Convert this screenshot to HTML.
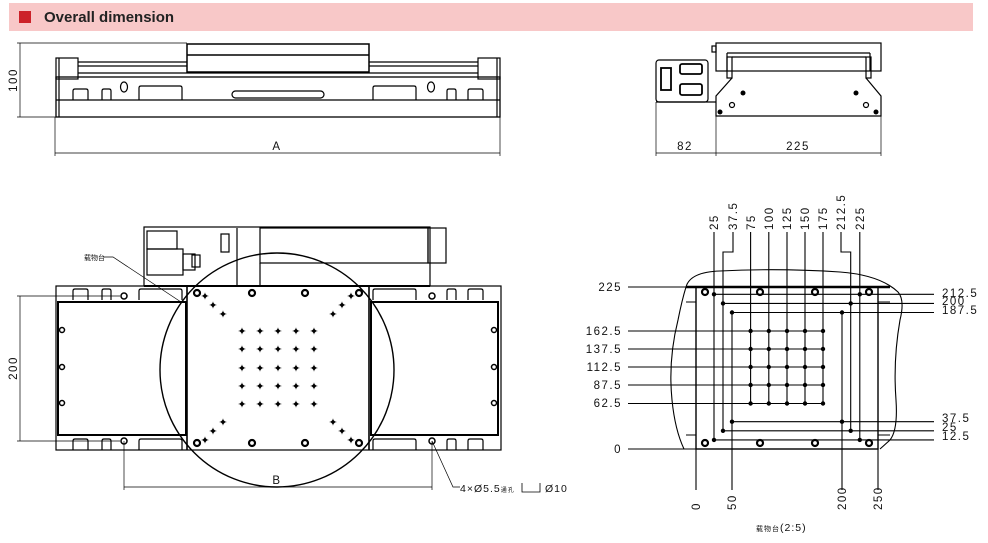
<!DOCTYPE html>
<html><head><meta charset="utf-8"><style>
html,body{margin:0;padding:0;background:#fff;}
svg{display:block;}
text{font-family:"Liberation Sans","Noto Sans CJK SC",sans-serif;}
.t{font-size:11.5px;letter-spacing:1.5px;fill:#111;}
</style></head><body>
<svg width="988" height="543" viewBox="0 0 988 543" xmlns="http://www.w3.org/2000/svg">
<rect x="9" y="3" width="964" height="28" fill="#f8c8c8"/>
<rect x="19" y="11" width="12" height="12" fill="#cc2229"/>
<text x="44" y="22" style="font-size:15px;font-weight:bold" fill="#222">Overall dimension</text>

<g fill="none" stroke="#000" stroke-width="1.2">
<!-- top-left view -->
<line x1="17" y1="43" x2="187" y2="43" stroke-width="0.7"/>
<line x1="17" y1="117" x2="56" y2="117" stroke-width="0.7"/>
<line x1="20" y1="43" x2="20" y2="117" stroke-width="0.7"/>
<rect x="187" y="44" width="182" height="28" stroke-width="1.5"/>
<line x1="187" y1="55" x2="369" y2="55" stroke-width="1.5"/>
<rect x="56" y="58" width="22" height="21"/><rect x="478" y="58" width="22" height="21"/>
<line x1="78" y1="62" x2="187" y2="62"/><line x1="78" y1="66" x2="187" y2="66"/>
<line x1="369" y1="62" x2="478" y2="62"/><line x1="369" y1="66" x2="478" y2="66"/>
<line x1="78" y1="73" x2="478" y2="73"/>
<rect x="56" y="77" width="444" height="40" stroke-width="1.3"/>
<line x1="59" y1="58" x2="59" y2="117"/><line x1="497" y1="58" x2="497" y2="117"/>
<line x1="56" y1="100" x2="500" y2="100"/>
<path d="M73 100V91q0-2 2-2h11q2 0 2 2v9M102 100V91q0-2 2-2h5q2 0 2 2v9M139 100V88q0-2 2-2h39q2 0 2 2v12"/>
<path d="M373 100V88q0-2 2-2h39q2 0 2 2v12M447 100V91q0-2 2-2h5q2 0 2 2v9M468 100V91q0-2 2-2h11q2 0 2 2v9"/>
<rect x="232" y="91" width="92" height="7" rx="3.5"/>
<ellipse cx="124" cy="87" rx="3.5" ry="5"/><ellipse cx="431" cy="87" rx="3.5" ry="5"/>
<line x1="55" y1="117" x2="55" y2="156" stroke-width="0.7"/><line x1="500" y1="117" x2="500" y2="156" stroke-width="0.7"/>
<line x1="55" y1="153" x2="500" y2="153" stroke-width="0.7"/>

<!-- top-right view -->
<rect x="716" y="43" width="165" height="28"/>
<line x1="727" y1="53" x2="870" y2="53"/><line x1="727" y1="53" x2="727" y2="71"/><line x1="870" y1="53" x2="870" y2="71"/>
<line x1="732" y1="57" x2="866" y2="57"/>
<rect x="727" y="57" width="5" height="21"/><rect x="866" y="57" width="5" height="21"/>
<rect x="712" y="46" width="4" height="6"/>
<path d="M732 78 L716 96 V116 H881 V96 L866 78"/>
<circle cx="732" cy="105" r="2.5"/><circle cx="866" cy="105" r="2.5"/>
<rect x="656" y="60" width="52" height="42" rx="3"/>
<line x1="656" y1="102" x2="716" y2="102"/>
<rect x="680" y="64" width="22" height="10" rx="2" stroke-width="1.8"/>
<rect x="680" y="84" width="22" height="11" rx="2" stroke-width="1.8"/>
<rect x="661" y="68" width="10" height="22" stroke-width="1.8"/>
<line x1="656" y1="102" x2="656" y2="156" stroke-width="0.7"/>
<line x1="716" y1="116" x2="716" y2="156" stroke-width="0.7"/>
<line x1="881" y1="116" x2="881" y2="156" stroke-width="0.7"/>
<line x1="656" y1="153" x2="881" y2="153" stroke-width="0.7"/>

<!-- bottom-left view -->
<rect x="144" y="227" width="286" height="59"/>
<rect x="260" y="228" width="168" height="35"/>
<rect x="428" y="228" width="18" height="35"/>
<line x1="237" y1="228" x2="237" y2="286"/><line x1="260" y1="263" x2="260" y2="286"/>
<rect x="147" y="231" width="30" height="18"/><rect x="147" y="249" width="36" height="26"/>
<rect x="183" y="254" width="12" height="16"/><rect x="192" y="255" width="8" height="12"/>
<rect x="221" y="234" width="8" height="18"/>
<rect x="56" y="286" width="445" height="164"/>
<rect x="58" y="302" width="128" height="133" stroke-width="2"/>
<rect x="371" y="302" width="127" height="133" stroke-width="2"/>
<line x1="187" y1="286" x2="187" y2="450" stroke-width="1.6"/>
<line x1="369" y1="286" x2="369" y2="450" stroke-width="1.6"/>
<line x1="144" y1="286" x2="430" y2="286" stroke-width="2"/>
<path d="M73 300V291q0-2 2-2h11q2 0 2 2v9M102 300V291q0-2 2-2h5q2 0 2 2v9M139 300V291q0-2 2-2h39q2 0 2 2v9"/>
<path d="M73 450V441q0-2 2-2h11q2 0 2 2v9M102 450V441q0-2 2-2h5q2 0 2 2v9M139 450V441q0-2 2-2h39q2 0 2 2v9"/>
<path d="M373 300V291q0-2 2-2h39q2 0 2 2v9M447 300V291q0-2 2-2h5q2 0 2 2v9M468 300V291q0-2 2-2h11q2 0 2 2v9"/>
<path d="M373 450V441q0-2 2-2h39q2 0 2 2v9M447 450V441q0-2 2-2h5q2 0 2 2v9M468 450V441q0-2 2-2h11q2 0 2 2v9"/>
<circle cx="277" cy="370" r="117" stroke-width="1.4"/>
<line x1="17" y1="296" x2="120" y2="296" stroke-width="0.7"/>
<line x1="17" y1="441" x2="120" y2="441" stroke-width="0.7"/>
<line x1="20" y1="296" x2="20" y2="441" stroke-width="0.7"/>
<line x1="124" y1="441" x2="124" y2="490" stroke-width="0.7"/>
<line x1="432" y1="441" x2="432" y2="490" stroke-width="0.7"/>
<line x1="124" y1="487" x2="432" y2="487" stroke-width="0.7"/>
<polyline points="432,441 453,487 460,487" stroke-width="0.7"/>
<polyline points="103,257 113,257 181,302" stroke-width="0.7"/>
<path d="M540 483V492H522V483" stroke-width="0.8"/>
</g>
<g fill="#000">
<circle cx="743" cy="93" r="2.5"/><circle cx="856" cy="93" r="2.5"/><circle cx="720" cy="112" r="2.5"/><circle cx="876" cy="112" r="2.5"/>
</g>
<g fill="none" stroke="#000" stroke-width="2.2">
<circle cx="197" cy="293" r="3"/><circle cx="252" cy="293" r="3"/><circle cx="305" cy="293" r="3"/><circle cx="359" cy="293" r="3"/>
<circle cx="197" cy="443" r="3"/><circle cx="252" cy="443" r="3"/><circle cx="305" cy="443" r="3"/><circle cx="359" cy="443" r="3"/>
</g>
<g fill="none" stroke="#000" stroke-width="1.5">
<circle cx="62" cy="330" r="2.5"/><circle cx="62" cy="367" r="2.5"/><circle cx="62" cy="403" r="2.5"/>
<circle cx="494" cy="330" r="2.5"/><circle cx="494" cy="367" r="2.5"/><circle cx="494" cy="403" r="2.5"/>
<circle cx="124" cy="296" r="3"/><circle cx="432" cy="296" r="3"/><circle cx="124" cy="441" r="3"/><circle cx="432" cy="441" r="3"/>
</g>
<g fill="#000" font-size="11" text-anchor="middle">
<text x="242" y="335">✦</text><text x="260" y="335">✦</text><text x="278" y="335">✦</text><text x="296" y="335">✦</text><text x="314" y="335">✦</text>
<text x="242" y="353">✦</text><text x="260" y="353">✦</text><text x="278" y="353">✦</text><text x="296" y="353">✦</text><text x="314" y="353">✦</text>
<text x="242" y="372">✦</text><text x="260" y="372">✦</text><text x="278" y="372">✦</text><text x="296" y="372">✦</text><text x="314" y="372">✦</text>
<text x="242" y="390">✦</text><text x="260" y="390">✦</text><text x="278" y="390">✦</text><text x="296" y="390">✦</text><text x="314" y="390">✦</text>
<text x="242" y="408">✦</text><text x="260" y="408">✦</text><text x="278" y="408">✦</text><text x="296" y="408">✦</text><text x="314" y="408">✦</text>
<text x="205" y="300">✦</text><text x="213" y="309">✦</text><text x="223" y="318">✦</text>
<text x="351" y="300">✦</text><text x="342" y="309">✦</text><text x="333" y="318">✦</text>
<text x="223" y="426">✦</text><text x="213" y="435">✦</text><text x="205" y="444">✦</text>
<text x="333" y="426">✦</text><text x="342" y="435">✦</text><text x="351" y="444">✦</text>
</g>

<!-- bottom-right view -->
<g fill="none" stroke="#000" stroke-width="1.1">
<path d="M686 287 Q690 272 720 271 Q780 268 840 272 Q880 275 898 292 Q905 300 900 320 Q893 360 896 400 Q898 430 890 440 L880 449"/>
<path d="M686 287 Q682 300 678 320 Q668 360 672 400 Q675 430 684 449 L696 449"/>
<rect x="696" y="287" width="182" height="162" stroke-width="1.4"/>
<line x1="686" y1="287" x2="890" y2="287" stroke-width="2.4"/>
<path d="M686 302h10M878 302h12M686 435h10M878 435h12"/>
<line x1="628" y1="287" x2="696" y2="287"/>
<line x1="628" y1="331" x2="823" y2="331"/><line x1="628" y1="349" x2="823" y2="349"/>
<line x1="628" y1="367" x2="823" y2="367"/><line x1="628" y1="385" x2="823" y2="385"/>
<line x1="628" y1="403.5" x2="823" y2="403.5"/><line x1="628" y1="449" x2="696" y2="449"/>
<line x1="714" y1="294.3" x2="934" y2="294.3"/><line x1="723" y1="303.4" x2="934" y2="303.4"/><line x1="732" y1="312.5" x2="934" y2="312.5"/>
<line x1="732" y1="421.7" x2="934" y2="421.7"/><line x1="723" y1="430.8" x2="934" y2="430.8"/><line x1="714" y1="439.9" x2="934" y2="439.9"/>
<line x1="714" y1="232" x2="714" y2="440"/>
<polyline points="733,232 733,252 723,252 723,431"/>
<line x1="750.6" y1="232" x2="750.6" y2="403.5"/><line x1="768.8" y1="232" x2="768.8" y2="403.5"/>
<line x1="787" y1="232" x2="787" y2="403.5"/><line x1="805" y1="232" x2="805" y2="403.5"/>
<line x1="823" y1="232" x2="823" y2="403.5"/>
<polyline points="841,232 841,252 850.7,252 850.7,431"/>
<line x1="859.8" y1="232" x2="859.8" y2="440"/>
<line x1="696" y1="449" x2="696" y2="490"/><line x1="732" y1="312.5" x2="732" y2="490"/>
<line x1="842" y1="312.5" x2="842" y2="490"/><line x1="878" y1="449" x2="878" y2="490"/>
</g>
<g fill="none" stroke="#000" stroke-width="2.2">
<circle cx="705" cy="292" r="3"/><circle cx="760" cy="292" r="3"/><circle cx="815" cy="292" r="3"/><circle cx="869" cy="292" r="3"/>
<circle cx="705" cy="443" r="3"/><circle cx="760" cy="443" r="3"/><circle cx="815" cy="443" r="3"/><circle cx="869" cy="443" r="3"/>
</g>
<g fill="#000">
<circle cx="750.6" cy="331" r="2.2"/><circle cx="768.8" cy="331" r="2.2"/><circle cx="787" cy="331" r="2.2"/><circle cx="805" cy="331" r="2.2"/><circle cx="823" cy="331" r="2.2"/>
<circle cx="750.6" cy="349" r="2.2"/><circle cx="768.8" cy="349" r="2.2"/><circle cx="787" cy="349" r="2.2"/><circle cx="805" cy="349" r="2.2"/><circle cx="823" cy="349" r="2.2"/>
<circle cx="750.6" cy="367" r="2.2"/><circle cx="768.8" cy="367" r="2.2"/><circle cx="787" cy="367" r="2.2"/><circle cx="805" cy="367" r="2.2"/><circle cx="823" cy="367" r="2.2"/>
<circle cx="750.6" cy="385" r="2.2"/><circle cx="768.8" cy="385" r="2.2"/><circle cx="787" cy="385" r="2.2"/><circle cx="805" cy="385" r="2.2"/><circle cx="823" cy="385" r="2.2"/>
<circle cx="750.6" cy="403.5" r="2.2"/><circle cx="768.8" cy="403.5" r="2.2"/><circle cx="787" cy="403.5" r="2.2"/><circle cx="805" cy="403.5" r="2.2"/><circle cx="823" cy="403.5" r="2.2"/>
<circle cx="714" cy="294.3" r="2.2"/><circle cx="723" cy="303.4" r="2.2"/><circle cx="732" cy="312.5" r="2.2"/>
<circle cx="859.8" cy="294.3" r="2.2"/><circle cx="850.7" cy="303.4" r="2.2"/><circle cx="842" cy="312.5" r="2.2"/>
<circle cx="714" cy="439.9" r="2.2"/><circle cx="723" cy="430.8" r="2.2"/><circle cx="732" cy="421.7" r="2.2"/>
<circle cx="859.8" cy="439.9" r="2.2"/><circle cx="850.7" cy="430.8" r="2.2"/><circle cx="842" cy="421.7" r="2.2"/>
</g>

<g class="t">
<text x="13" y="80" transform="rotate(-90 13 80)" text-anchor="middle" dy="4">100</text>
<text x="277" y="150" text-anchor="middle">A</text>
<text x="685" y="150" text-anchor="middle">82</text>
<text x="798" y="150" text-anchor="middle">225</text>
<text x="13" y="368" transform="rotate(-90 13 368)" text-anchor="middle" dy="4">200</text>
<text x="277" y="484" text-anchor="middle">B</text>
<text x="460" y="492" style="font-size:10.5px;letter-spacing:1px">4×Ø5.5<tspan style="font-size:6px">通孔</tspan></text>
<text x="545" y="492" style="font-size:10.5px;letter-spacing:1px">Ø10</text>
<text x="84" y="260" style="font-size:7px;letter-spacing:0">载物台</text>
<text x="622" y="291" text-anchor="end">225</text>
<text x="622" y="335" text-anchor="end">162.5</text>
<text x="622" y="353" text-anchor="end">137.5</text>
<text x="622" y="371" text-anchor="end">112.5</text>
<text x="622" y="389" text-anchor="end">87.5</text>
<text x="622" y="407" text-anchor="end">62.5</text>
<text x="622" y="453" text-anchor="end">0</text>
<text x="942" y="297">212.5</text>
<text x="942" y="305">200</text>
<text x="942" y="314">187.5</text>
<text x="942" y="422">37.5</text>
<text x="942" y="431">25</text>
<text x="942" y="440">12.5</text>
<text transform="translate(718 230) rotate(-90)">25</text>
<text transform="translate(737 230) rotate(-90)">37.5</text>
<text transform="translate(755 230) rotate(-90)">75</text>
<text transform="translate(773 230) rotate(-90)">100</text>
<text transform="translate(791 230) rotate(-90)">125</text>
<text transform="translate(809 230) rotate(-90)">150</text>
<text transform="translate(827 230) rotate(-90)">175</text>
<text transform="translate(845 230) rotate(-90)">212.5</text>
<text transform="translate(864 230) rotate(-90)">225</text>
<text transform="translate(700 510) rotate(-90)">0</text>
<text transform="translate(736 510) rotate(-90)">50</text>
<text transform="translate(846 510) rotate(-90)">200</text>
<text transform="translate(882 510) rotate(-90)">250</text>
<text x="756" y="531" style="font-size:10.5px;letter-spacing:1px"><tspan style="font-size:7px">载物台</tspan>(2:5)</text>
</g>
</svg>
</body></html>
